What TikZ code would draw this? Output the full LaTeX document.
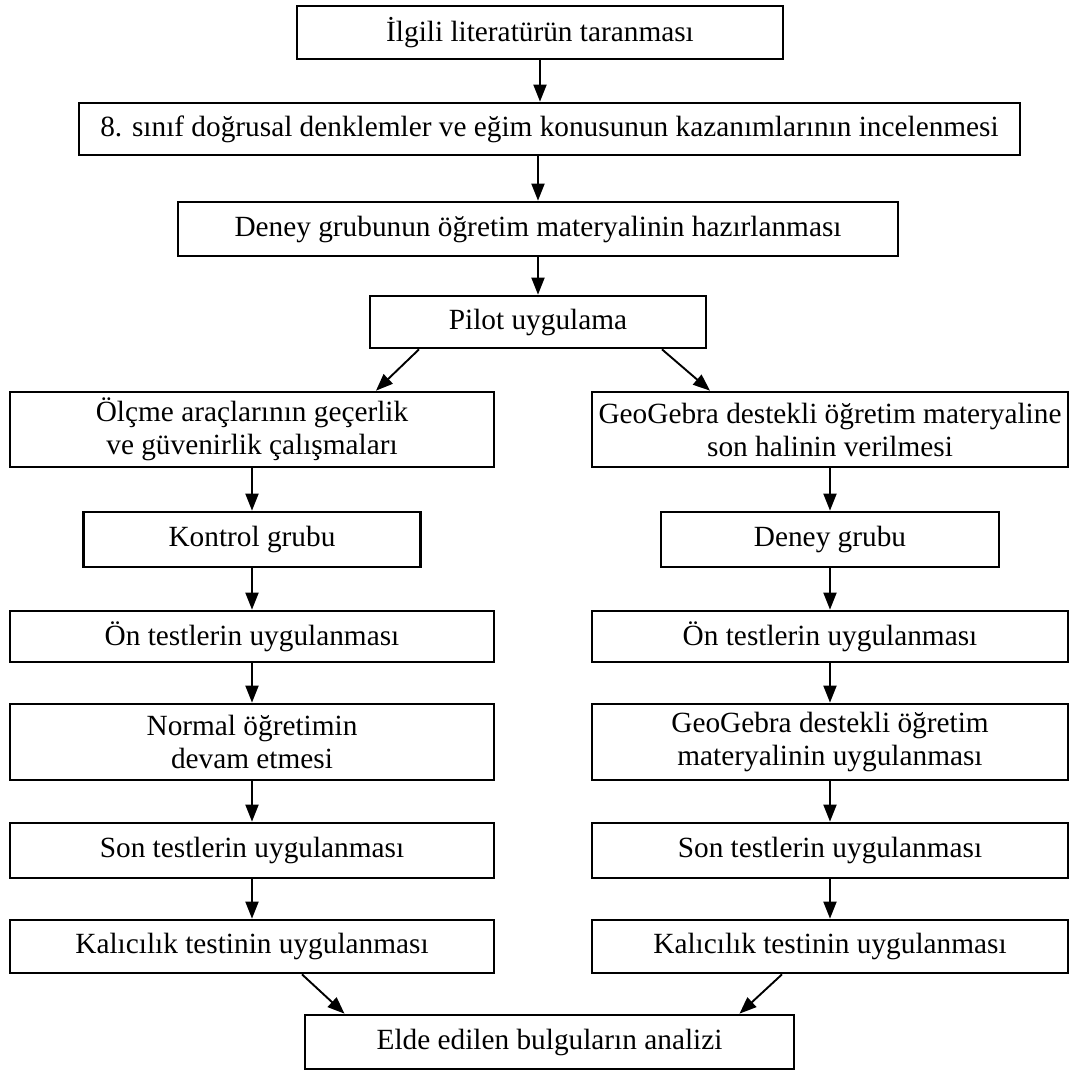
\documentclass[tikz,border=0pt]{standalone}
\usepackage{fontspec}
\setmainfont{Liberation Serif}
\usepackage{tikz}
\usetikzlibrary{arrows.meta, positioning, calc}

\begin{document}
\begin{tikzpicture}[x=1pt, y=-1pt,
    stepbox/.style={draw, line width=2.7pt, inner sep=0pt, align=center,
      font=\fontsize{29.3}{33}\selectfont},
    arr/.style={-{Triangle[length=17pt, width=13pt]}, line width=1.9pt}]
  \useasboundingbox (0,0) rectangle (1069,1071);

  % Common steps
  \node[stepbox, minimum width=486pt, minimum height=53pt] (lit) at (540, 32.5) {İlgili literatürün taranması};
  \node[stepbox, minimum width=941pt, minimum height=52pt] (kazanim) at (549.5, 129) {8. sınıf doğrusal denklemler ve eğim konusunun kazanımlarının incelenmesi};
  \node[stepbox, minimum width=720pt, minimum height=54pt] (materyal) at (538, 229) {Deney grubunun öğretim materyalinin hazırlanması};
  \node[stepbox, minimum width=336pt, minimum height=52pt] (pilot) at (538, 322) {Pilot uygulama};
  \draw[arr] (lit) -- (lit |- kazanim.north);
  \draw[arr] (materyal |- kazanim.south) -- (materyal.north);
  \draw[arr] (materyal) -- (pilot);

  % Control group (left)
  \node[stepbox, minimum width=484pt, minimum height=75pt] (olcme) at (252, 429.5) {Ölçme araçlarının geçerlik\\ve güvenirlik çalışmaları};
  \node[stepbox, minimum width=337pt, minimum height=55pt] (kontrol) at (252, 539.5) {Kontrol grubu};
  \node[stepbox, minimum width=484pt, minimum height=51pt] (ontestK) at (252, 636.5) {Ön testlerin uygulanması};
  \node[stepbox, minimum width=484pt, minimum height=76pt] (normal) at (252, 742) {Normal öğretimin\\devam etmesi};
  \node[stepbox, minimum width=484pt, minimum height=55pt] (sontestK) at (252, 850.5) {Son testlerin uygulanması};
  \node[stepbox, minimum width=484pt, minimum height=53pt] (kalicK) at (252, 946.5) {Kalıcılık testinin uygulanması};

  % Experiment group (right)
  \node[stepbox, minimum width=476pt, minimum height=75pt] (geogebra) at (830, 429.5) {GeoGebra destekli öğretim materyaline\\son halinin verilmesi};
  \node[stepbox, minimum width=338pt, minimum height=55pt] (deney) at (830, 539.5) {Deney grubu};
  \node[stepbox, minimum width=476pt, minimum height=51pt] (ontestD) at (830, 636.5) {Ön testlerin uygulanması};
  \node[stepbox, minimum width=476pt, minimum height=76pt] (ggUyg) at (830, 742) {GeoGebra destekli öğretim\\materyalinin uygulanması};
  \node[stepbox, minimum width=476pt, minimum height=55pt] (sontestD) at (830, 850.5) {Son testlerin uygulanması};
  \node[stepbox, minimum width=476pt, minimum height=53pt] (kalicD) at (830, 946.5) {Kalıcılık testinin uygulanması};

  % Analysis
  \node[stepbox, minimum width=489pt, minimum height=54pt] (analiz) at (549.5, 1042) {Elde edilen bulguların analizi};

  % Branches
  \draw[arr] ([xshift=-119pt]pilot.south) -- ([xshift=124pt]olcme.north);
  \draw[arr] ([xshift=124pt]pilot.south) -- ([xshift=-120pt]geogebra.north);
  \foreach \a/\b in {olcme/kontrol, kontrol/ontestK, ontestK/normal, normal/sontestK, sontestK/kalicK,
                     geogebra/deney, deney/ontestD, ontestD/ggUyg, ggUyg/sontestD, sontestD/kalicD}
    \draw[arr] (\a) -- (\b);
  \draw[arr] ([xshift=50pt]kalicK.south) -- ([xshift=-205pt]analiz.north);
  \draw[arr] ([xshift=-48pt]kalicD.south) -- ([xshift=190pt]analiz.north);
\end{tikzpicture}
\end{document}
